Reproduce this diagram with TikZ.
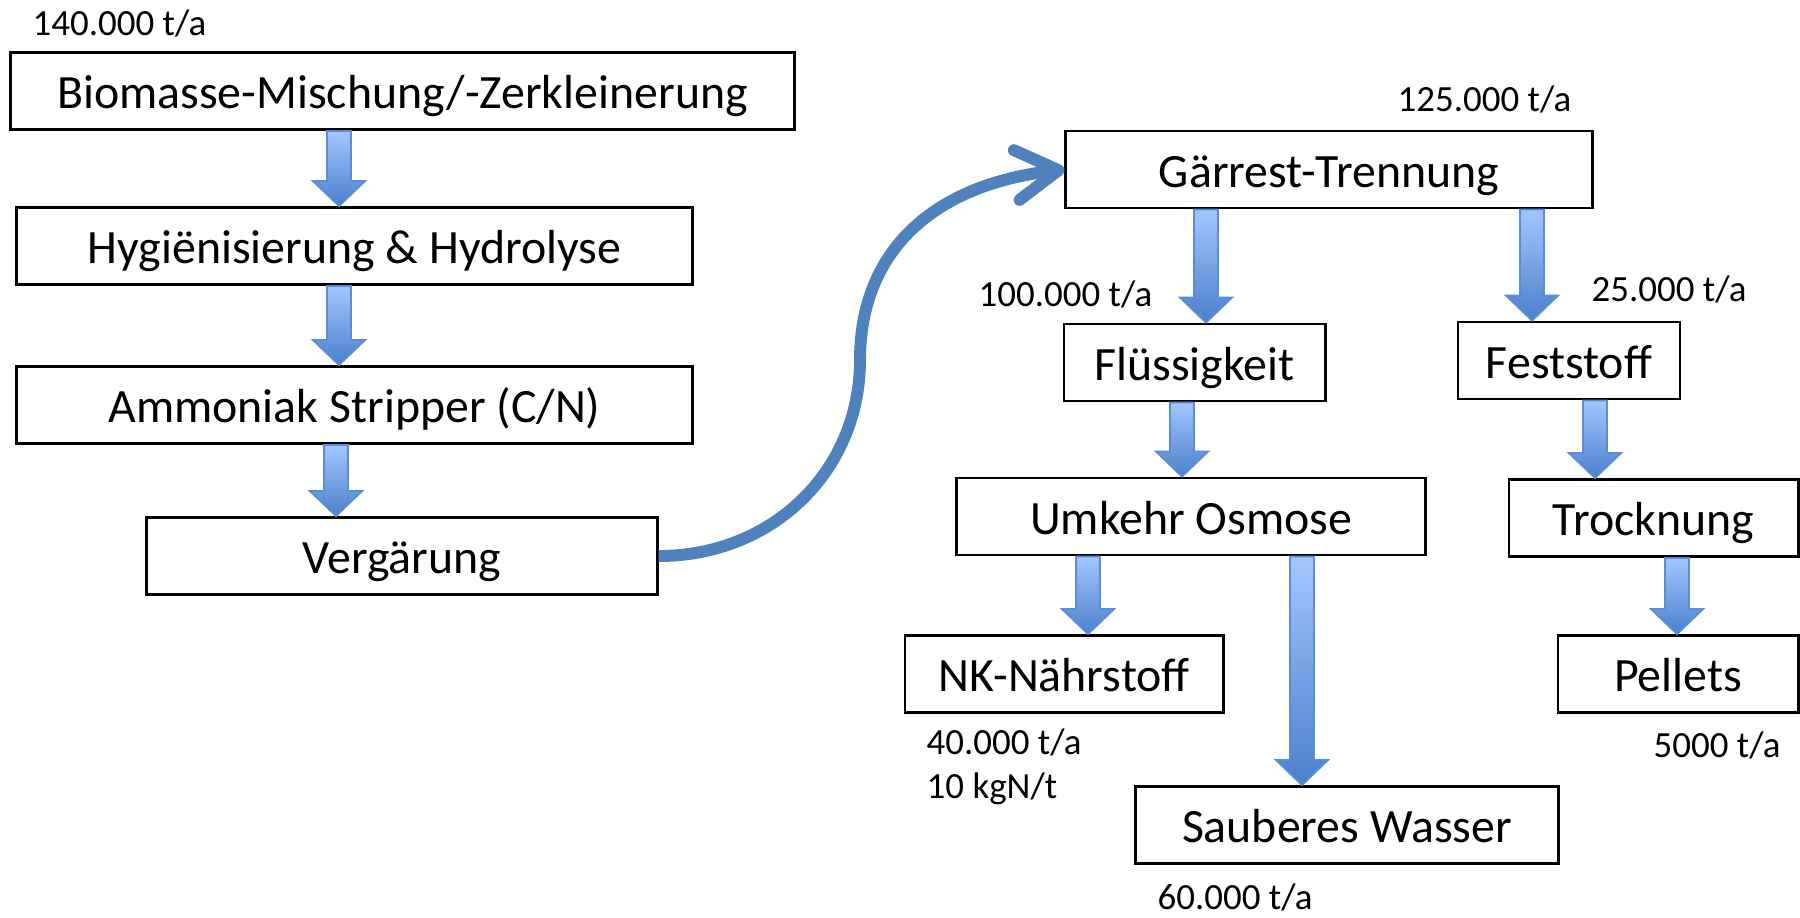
\documentclass[tikz,border=0pt]{standalone}
\usepackage{fontspec}
\setmainfont{Carlito}
\usetikzlibrary{arrows.meta, calc}
\definecolor{arrlight}{HTML}{A4C6FF}
\definecolor{arrdark}{HTML}{4A80CC}
\definecolor{arredge}{HTML}{5B8DD5}
\definecolor{curveblue}{HTML}{4F81BD}
\tikzset{
  % process box
  stage/.style={draw=black, line width=0.8pt, fill=white, inner sep=0pt,
                minimum width=#1, minimum height=0.77cm,
                text height=12.6pt, text depth=2.6pt,
                font=\fontsize{13.6}{16}\selectfont},
  % throughput label
  amount/.style={anchor=west, inner sep=0pt, align=left,
                 font=\fontsize{10.5}{12.6}\selectfont},
  % shaded block arrow
  flow/.style={draw=arredge, line width=0.5pt,
               top color=arrlight, bottom color=arrdark},
}
% block arrow at x=#1 from box #2 down to box #3
\newcommand{\flowarr}[3]{%
  \path[flow] let \p0=(#1,0), \p1=(#2.south), \p2=(#3.north) in
    (\x0-0.12cm,\y1) -- (\x0-0.12cm,\y2+0.25cm) -- (\x0-0.26cm,\y2+0.25cm)
    -- (\x0,\y2) -- (\x0+0.26cm,\y2+0.25cm) -- (\x0+0.12cm,\y2+0.25cm)
    -- (\x0+0.12cm,\y1) -- cycle;}

\begin{document}
\begin{tikzpicture}[x=0.01cm, y=-0.01cm]
  \useasboundingbox (0,0) rectangle (1800,917);
  % left column
  \node[stage=7.83cm] (bio)  at (402.5,91)  {Biomasse-Mischung/-Zerkleinerung};
  \node[stage=6.75cm] (hyg)  at (354.5,246) {Hygiënisierung \& Hydrolyse};
  \node[stage=6.75cm] (amm)  at (354.5,405) {Ammoniak Stripper (C/N)};
  \node[stage=5.10cm] (verg) at (402,556)   {Vergärung};
  % right part
  \node[stage=5.26cm] (gar)  at (1329,169.5)  {Gärrest-Trennung};
  \node[stage=2.61cm] (flu)  at (1194.5,362.5) {Flüssigkeit};
  \node[stage=2.22cm] (fest) at (1569,360.5)  {Feststoff};
  \node[stage=4.68cm] (umk)  at (1191,516.5)  {Umkehr Osmose};
  \node[stage=2.89cm] (troc) at (1653.5,518)  {Trocknung};
  \node[stage=3.18cm] (nk)   at (1064,674)    {NK-Nährstoff};
  \node[stage=4.22cm] (sau)  at (1347,825)    {Sauberes Wasser};
  \node[stage=2.40cm] (pel)  at (1678,674)    {Pellets};

  \foreach \ax/\a/\b in {339/bio/hyg, 339/hyg/amm, 336/amm/verg,
                         1206/gar/flu, 1532/gar/fest, 1182/flu/umk,
                         1595/fest/troc, 1088/umk/nk, 1302/umk/sau, 1677/troc/pel}
    \flowarr{\ax}{\a}{\b};

  % curved transfer arrow
  \coordinate (bend) at (860,360);
  \draw[curveblue, line width=3.4pt,
        -{Straight Barb[length=0.42cm, width=0.5cm, round]}]
    (verg.east) .. controls +(115,0) and +(0,110) .. (bend)
    .. controls +(0,-110) and +(-130,15) .. (gar.west);

  % amounts
  \node[amount] (in)    at (32,23)    {140.000 t/a};
  \node[amount] (mgar)  at (1397,99)  {125.000 t/a};
  \node[amount] (mflu)  at (978,294)  {100.000 t/a};
  \node[amount] (mfest) at (1591,289) {25.000 t/a};
  \node[amount] (mnk)   at (926,767)  {40.000 t/a\\10 kgN/t};
  \node[amount] (msau)  at (1157,897) {60.000 t/a};
  \node[amount] (mpel)  at (1653,745) {5000 t/a};
\end{tikzpicture}
\end{document}
